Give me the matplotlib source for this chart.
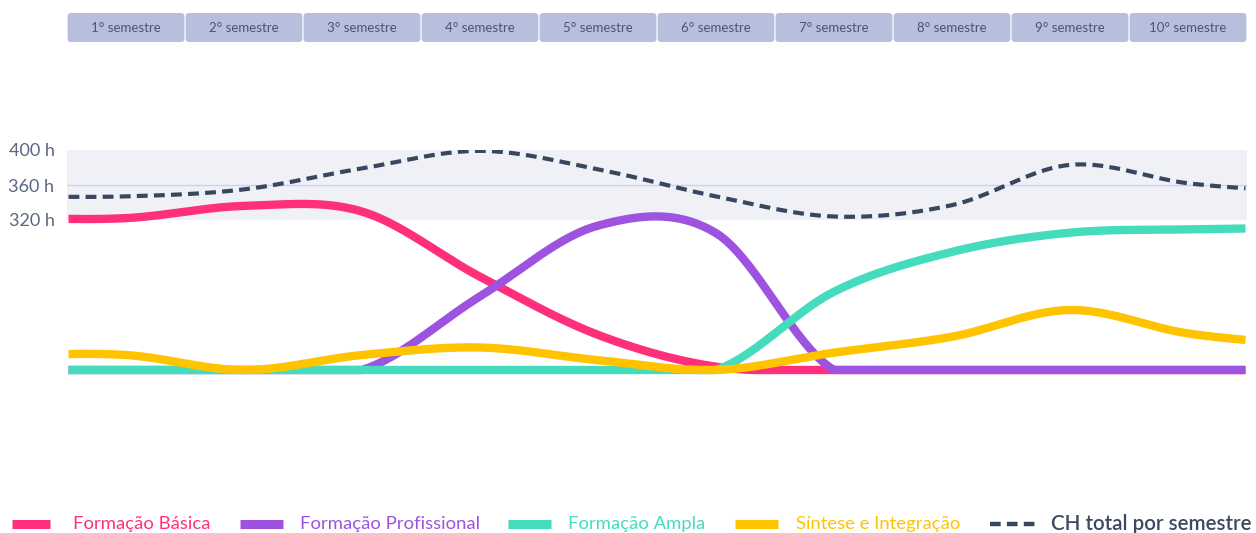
import numpy as np
import matplotlib
matplotlib.use("Agg")
import matplotlib.pyplot as plt
from matplotlib.lines import Line2D
from matplotlib.patches import FancyBboxPatch, Rectangle

plt.rcParams['font.family'] = ['Lato', 'DejaVu Sans']

semestres = ["1° semestre", "2° semestre", "3° semestre", "4° semestre", "5° semestre",
             "6° semestre", "7° semestre", "8° semestre", "9° semestre", "10° semestre"]

# carga horária (h) por semestre
basica = [324, 350, 338, 199, 75, 7, 0, 0, 0, 0]
profissional = [0, 0, 0, 157, 308, 292, 0, 0, 0, 0]
ampla = [0, 0, 0, 0, 0, 0, 167, 252, 293, 300]
sintese = [32, 0, 32, 48, 21, 0, 37, 71, 128, 78]
total = [347, 355, 379, 399, 378, 347, 324, 337, 383, 362]

series = [
    ("Formação Básica", basica, "#ff2f7b"),
    ("Formação Profissional", profissional, "#9d52e0"),
    ("Formação Ampla", ampla, "#45dcbe"),
    ("Síntese e Integração", sintese, "#ffc300"),
]
cor_total = "#374760"

W, H = 1256, 533


def smooth(vals, n=40):
    # catmull-rom; ponta esquerda repetida, ponta direita meio prolongada
    vals = np.asarray(vals, dtype=float)
    p = np.concatenate([[vals[0]], vals, [vals[-1] + 0.5 * (vals[-1] - vals[-2])]])
    m = np.zeros_like(p)
    m[1:-1] = (p[2:] - p[:-2]) / 2
    m[-1] = p[-1] - p[-2]
    xs, ys = [], []
    for k in range(len(p) - 1):
        t = np.linspace(0, 1, n)
        h00 = 2 * t**3 - 3 * t**2 + 1
        h10 = t**3 - 2 * t**2 + t
        h01 = -2 * t**3 + 3 * t**2
        h11 = t**3 - t**2
        xs.append(k + t)
        ys.append(h00 * p[k] + h10 * m[k] + h01 * p[k + 1] + h11 * m[k + 1])
    xs = np.concatenate(xs)
    ys = np.concatenate(ys)
    keep = (xs >= 0.5) & (xs <= 10.5)
    return xs[keep], ys[keep]


fig = plt.figure(figsize=(W / 100, H / 100), dpi=100)

# eixo principal: 400 h no pixel 150, 320 h no pixel 220, base das curvas no 370
top_px, bot_px = 150, 390
ax = fig.add_axes([67 / W, 1 - bot_px / H, 1180 / W, (bot_px - top_px) / H])
ppx_total = 35 / 40
ax.set_ylim(320 - (bot_px - 220) / ppx_total, 400)
ax.set_xlim(0.5, 10.5)

ax2 = ax.twinx()
ppx_cor = 150 / 320
ax2.set_ylim(-(bot_px - 370) / ppx_cor, (370 - top_px) / ppx_cor)
ax2.set_xlim(0.5, 10.5)

ax.add_patch(Rectangle((0.5, 320), 10, 80, color="#f0f1f7", lw=0, zorder=0))
ax.axhline(360, color="#cfd3ea", lw=1, zorder=1)

xt, yt = smooth(total)
ax.plot(xt, yt, color=cor_total, lw=3.0, dashes=(2.6, 1.5), dash_capstyle="butt", zorder=3)

for nome, vals, cor in series:
    xs, ys = smooth(vals)
    ys = np.clip(ys, 0, None)
    ax2.plot(xs, ys, color=cor, lw=6, solid_capstyle="butt", clip_on=False)

ax.set_yticks([320, 360, 400])
ax.set_yticklabels(["320 h", "360 h", "400 h"])
ax.tick_params(axis="y", length=0, pad=9, labelsize=13, labelcolor="#5b6684")
ax.set_xticks([])
ax2.set_yticks([])
for a in (ax, ax2):
    for s in a.spines.values():
        s.set_visible(False)
ax2.patch.set_visible(False)

# cabeçalho dos semestres
hx = fig.add_axes([67 / W, 1 - 42 / H, 1180 / W, 29 / H])
hx.set_xlim(0.5, 10.5)
hx.set_ylim(0, 1)
hx.axis("off")
for i, nome in enumerate(semestres, start=1):
    hx.add_patch(FancyBboxPatch((i - 0.5 + 0.005, 0), 0.99, 1,
                                boxstyle="round,pad=0,rounding_size=0.03",
                                mutation_aspect=118 / 29, color="#b8bfdc", lw=0))
    hx.text(i, 0.5, nome, ha="center", va="center", fontsize=9.5, color="#4d5370")


# legenda
def fx(px):
    return px / W


ly = 1 - 524 / H
leg = [(12, 50, 73), (240, 283, 300), (508, 551, 568), (735, 778, 796)]
for (nome, vals, cor), (a, b, t) in zip(series, leg):
    fig.add_artist(Line2D([fx(a), fx(b)], [ly, ly], color=cor, lw=6.5,
                          solid_capstyle="butt", transform=fig.transFigure))
    fig.text(fx(t), ly, nome, color=cor, fontsize=13.3, va="center")
fig.add_artist(Line2D([fx(990), fx(1035)], [ly, ly], color=cor_total, lw=3.2,
                      dashes=(2.4, 1.4), dash_capstyle="butt", transform=fig.transFigure))
fig.text(fx(1051), ly, "CH total por semestre", color="#3b4860", fontsize=14.8,
         fontweight="semibold", va="center")

fig.savefig("out.png", dpi=100)
